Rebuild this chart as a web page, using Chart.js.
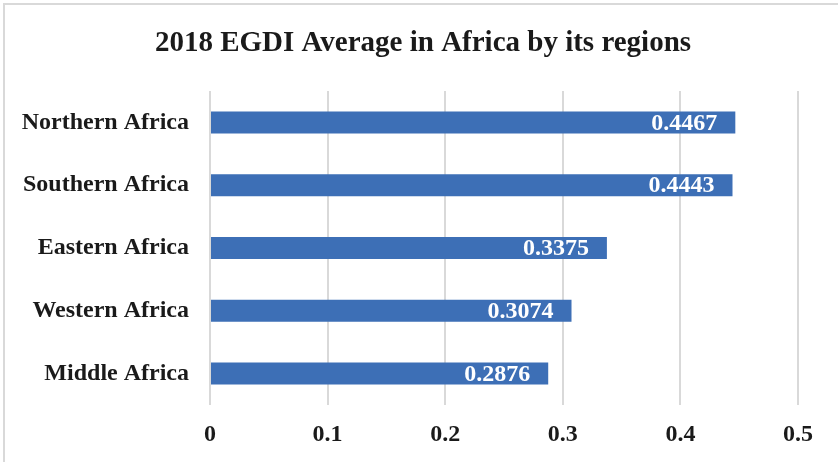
<!DOCTYPE html>
<html>
<head>
<meta charset="utf-8">
<script src="https://cdn.jsdelivr.net/npm/chart.js@4.4.1/dist/chart.umd.min.js"></script>
<style>
  html, body { margin: 0; padding: 0; background: #ffffff; }
  #wrap { width: 838px; height: 462px; position: relative; }
</style>
</head>
<body>
<div id="wrap"><canvas id="egdiChart" width="838" height="462"></canvas></div>
<script>
const chartTitle = '2018 EGDI Average in Africa by its regions';
const regions = ['Northern Africa', 'Southern Africa', 'Eastern Africa', 'Western Africa', 'Middle Africa'];
const egdiValues = [0.4467, 0.4443, 0.3375, 0.3074, 0.2876];
const valueLabels = ['0.4467', '0.4443', '0.3375', '0.3074', '0.2876'];
const xTickLabels = ['0', '0.1', '0.2', '0.3', '0.4', '0.5'];

const serif = "'Liberation Serif', 'Times New Roman', serif";

// light frame around the whole chart, title on top
const framePlugin = {
    id: 'frame',
    beforeDraw(chart) {
        const c = chart.ctx;
        c.save();
        c.fillStyle = '#ffffff';
        c.fillRect(0, 0, chart.width, chart.height);
        c.strokeStyle = '#d9d9d9';
        c.lineWidth = 2;
        c.strokeRect(4, 4, chart.width + 20, chart.height + 20);
        c.font = 'bold 29px ' + serif;
        c.fillStyle = '#1a1a1a';
        c.textAlign = 'center';
        c.textBaseline = 'alphabetic';
        c.fillText(chartTitle, 423, 51);
        c.restore();
    }
};

// white value labels inside the end of each bar
const barLabels = {
    id: 'barLabels',
    afterDatasetsDraw(chart) {
        const c = chart.ctx;
        const meta = chart.getDatasetMeta(0);
        c.save();
        c.font = 'bold 24px ' + serif;
        c.fillStyle = '#ffffff';
        c.textAlign = 'right';
        c.textBaseline = 'middle';
        meta.data.forEach((bar, i) => {
            c.fillText(valueLabels[i], bar.x - 18, bar.y + 1);
        });
        c.restore();
    }
};

const ctx = document.getElementById('egdiChart').getContext('2d');

const egdiChart = new Chart(ctx, {
    type: 'bar',
    data: {
        labels: regions,
        datasets: [{
            data: egdiValues,
            backgroundColor: '#3d6fb6',
            borderWidth: 0,
            categoryPercentage: 1,
            barPercentage: 0.35
        }]
    },
    options: {
        indexAxis: 'y',
        responsive: false,
        animation: false,
        layout: {
            padding: { left: 0, right: 40, top: 91, bottom: 0 }
        },
        plugins: {
            legend: { display: false },
            tooltip: { enabled: false },
            title: { display: false }
        },
        scales: {
            x: {
                min: 0,
                max: 0.5,
                ticks: {
                    stepSize: 0.1,
                    color: '#1a1a1a',
                    font: { family: serif, size: 24, weight: 'bold' },
                    padding: 15,
                    maxRotation: 0,
                    callback: (v, i) => xTickLabels[i]
                },
                grid: {
                    color: '#d9d9d9',
                    lineWidth: 2,
                    drawTicks: false
                },
                border: { display: false },
                afterFit(scale) { scale.height = 57; }
            },
            y: {
                ticks: {
                    color: '#1a1a1a',
                    font: { family: serif, size: 24, weight: 'bold' },
                    padding: 21
                },
                grid: { display: false, drawTicks: false },
                border: { display: false },
                afterFit(scale) { scale.width = 210; }
            }
        }
    },
    plugins: [framePlugin, barLabels]
});
</script>
</body>
</html>
